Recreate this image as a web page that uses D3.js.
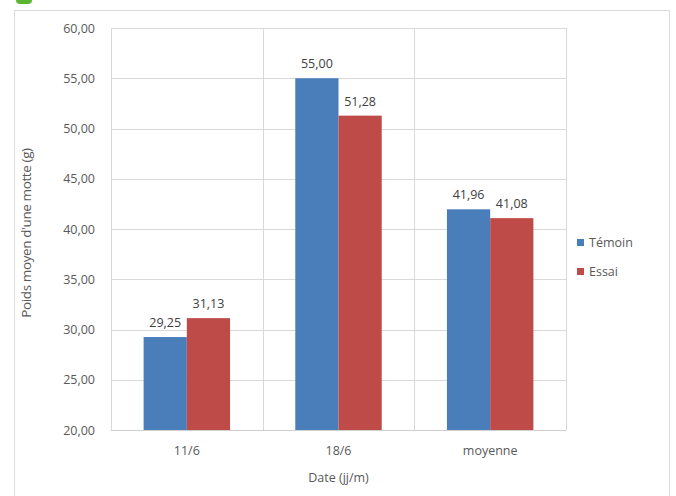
<!DOCTYPE html>
<html>
<head>
<meta charset="utf-8">
<script src="https://cdn.jsdelivr.net/npm/d3@7"></script>
<style>
  body { margin: 0; background: #fff; }
  text { font-family: "Open Sans", sans-serif; }
</style>
</head>
<body>
<div id="graphique"></div>
<script>
// Données
const categories = ["11/6", "18/6", "moyenne"];
const series = ["Témoin", "Essai"];
const temoin = [29.25, 55.00, 41.96];
const essai = [31.13, 51.28, 41.08];
const yTicks = [20, 25, 30, 35, 40, 45, 50, 55, 60];

const couleurs = { "Témoin": "#4a7ebb", "Essai": "#be4b48" };
const fmt = v => d3.format(".2f")(v).replace(".", ",");

const svgWidth = 676, svgHeight = 496;
const margin = { top: 28, right: 110, bottom: 66, left: 111 };
const width = svgWidth - margin.left - margin.right;
const height = svgHeight - margin.top - margin.bottom;

const root = d3.select("#graphique")
    .append("svg")
    .attr("width", svgWidth)
    .attr("height", svgHeight);

// petit bout vert en haut
root.append("rect")
    .attr("x", 16).attr("y", -8)
    .attr("width", 16).attr("height", 12)
    .attr("rx", 4)
    .attr("fill", "#5cb531");

// cadre
root.append("rect")
    .attr("x", 14.5).attr("y", 10.5)
    .attr("width", 655).attr("height", 500)
    .attr("fill", "#fff")
    .attr("stroke", "#dcdcdc");

const svg = root.append("g")
    .attr("transform", `translate(${margin.left}, ${margin.top})`);

// Escalas
const x = d3.scaleBand()
    .domain(categories)
    .range([0, width]);

const x1 = d3.scaleBand()
    .domain(series)
    .range([x.bandwidth() * 0.215, x.bandwidth() * 0.785]);

const y = d3.scaleLinear()
    .domain([20, 60])
    .range([height, 0]);

// grille horizontale
svg.append("g")
    .selectAll("line")
    .data(yTicks)
    .join("line")
    .attr("x1", 0).attr("x2", width)
    .attr("y1", d => Math.round(y(d)) + 0.5)
    .attr("y2", d => Math.round(y(d)) + 0.5)
    .attr("stroke", "#d9d9d9");

// séparateurs verticaux
svg.append("g")
    .selectAll("line")
    .data(categories.concat(["fin"]))
    .join("line")
    .attr("x1", (d, i) => Math.round(i * x.step()) + 0.5)
    .attr("x2", (d, i) => Math.round(i * x.step()) + 0.5)
    .attr("y1", 0).attr("y2", height)
    .attr("stroke", "#d9d9d9");

// Eje Y
const yAxis = svg.append("g")
    .attr("transform", "translate(-6, 0)")
    .call(d3.axisLeft(y).tickValues(yTicks).tickFormat(fmt).tickSize(0).tickPadding(10));
yAxis.select(".domain").remove();
yAxis.selectAll("text")
    .attr("fill", "#595959")
    .style("font-size", "12.5px");

// Eje X
const xAxis = svg.append("g")
    .attr("transform", `translate(0, ${height})`)
    .call(d3.axisBottom(x).tickSize(0).tickPadding(16));
xAxis.select(".domain").attr("stroke", "#d0d0d0");
xAxis.selectAll("text")
    .attr("fill", "#595959")
    .style("font-size", "12.5px");

// barres
const groupes = svg.append("g")
    .selectAll("g")
    .data(categories.map((c, i) => ({ cat: c, vals: [temoin[i], essai[i]] })))
    .join("g")
    .attr("transform", d => `translate(${x(d.cat)}, 0)`);

groupes.selectAll("rect")
    .data(d => d.vals.map((v, j) => ({ serie: series[j], v })))
    .join("rect")
    .attr("x", d => x1(d.serie))
    .attr("width", x1.bandwidth())
    .attr("y", d => y(d.v))
    .attr("height", d => height - y(d.v))
    .attr("fill", d => couleurs[d.serie]);

groupes.selectAll("text.val")
    .data(d => d.vals.map((v, j) => ({ serie: series[j], v })))
    .join("text")
    .attr("class", "val")
    .attr("x", d => x1(d.serie) + x1.bandwidth() / 2)
    .attr("y", d => y(d.v) - 10)
    .attr("text-anchor", "middle")
    .attr("fill", "#404040")
    .style("font-size", "12.5px")
    .text(d => fmt(d.v));

// titres des axes
svg.append("text")
    .attr("x", width / 2)
    .attr("y", height + 52)
    .attr("text-anchor", "middle")
    .attr("fill", "#595959")
    .style("font-size", "12.5px")
    .text("Date (jj/m)");

svg.append("text")
    .attr("transform", `translate(-80, ${height / 2 + 4}) rotate(-90)`)
    .attr("text-anchor", "middle")
    .attr("fill", "#595959")
    .style("font-size", "13.5px")
    .style("letter-spacing", "-0.4px")
    .text("Poids moyen d'une motte (g)");

// Leyenda
const legend = svg.append("g")
    .attr("transform", `translate(${width + 11}, ${height / 2 + 14})`);

series.forEach((s, i) => {
    legend.append("rect")
        .attr("y", i * 29 - 4)
        .attr("width", 7).attr("height", 7)
        .attr("fill", couleurs[s]);
    legend.append("text")
        .attr("x", 12).attr("y", i * 29 + 4)
        .attr("fill", "#595959")
        .style("font-size", "12.5px")
        .text(s);
});
</script>
</body>
</html>
